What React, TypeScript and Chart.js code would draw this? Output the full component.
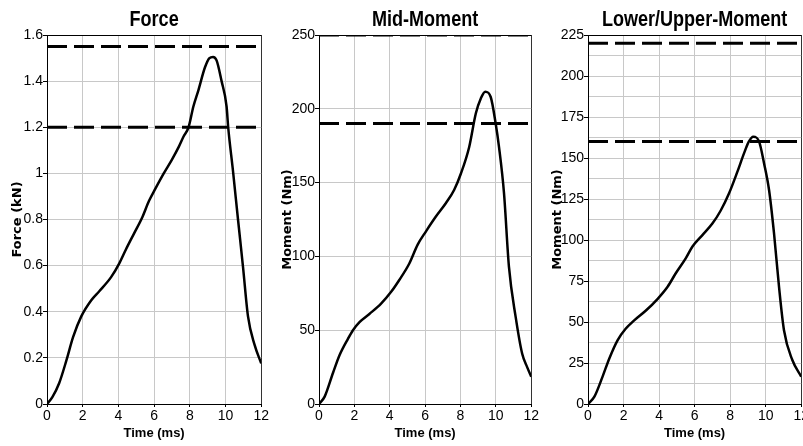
import React, { useEffect, useRef } from "react";
import { Chart, registerables } from "chart.js";

Chart.register(...registerables);

// ---------- data ----------
const forceTime = [0, 0.3, 0.68, 1.09, 1.46, 1.92, 2.48, 2.94, 3.59, 4.05, 4.42, 4.88, 5.34, 5.71, 6.08, 6.54, 7.0, 7.38, 7.65, 7.93, 8.2, 8.48, 8.85, 9.1, 9.3, 9.5, 9.78, 10.06, 10.15, 10.42, 10.7, 10.98, 11.26, 11.63, 12];
const forceValues = [0, 0.03, 0.09, 0.19, 0.29, 0.38, 0.45, 0.49, 0.55, 0.61, 0.67, 0.74, 0.81, 0.88, 0.935, 1.0, 1.06, 1.115, 1.16, 1.2, 1.29, 1.36, 1.46, 1.5, 1.505, 1.49, 1.4, 1.29, 1.2, 1.01, 0.8, 0.595, 0.38, 0.256, 0.176];
const forceLimits = [1.55, 1.2];

const midTime = [0, 0.32, 0.79, 1.16, 1.63, 1.92, 2.29, 2.85, 3.51, 4.08, 4.54, 5.1, 5.58, 6.05, 6.61, 7.17, 7.64, 8.02, 8.49, 8.87, 9.15, 9.4, 9.71, 9.99, 10.18, 10.46, 10.74, 11.12, 11.49, 11.77, 12];
const midValues = [0, 5, 21, 33, 44, 50, 55.5, 61, 68, 76, 84, 95, 108, 117, 127, 136, 145, 156, 174, 197, 207, 211.6, 208, 190, 174, 143, 93, 59, 34, 25, 18.5];
const midLimits = [250, 190];

const luTime = [0, 0.36, 0.82, 1.2, 1.67, 2.13, 2.6, 3.26, 3.91, 4.48, 4.94, 5.5, 5.88, 6.44, 7.0, 7.47, 7.94, 8.41, 8.78, 9.05, 9.3, 9.63, 9.91, 10.19, 10.47, 10.75, 11.03, 11.5, 12];
const luValues = [0, 4.5, 16.7, 27.8, 39, 46, 51, 57, 64, 71.5, 79.7, 88.8, 96, 103, 110, 118, 128.5, 141.7, 152.8, 160, 163, 160, 146.7, 130.5, 104, 71.5, 45, 26.8, 16.7];
const luLimits = [220, 160];

const timeTicks = [0, 2, 4, 6, 8, 10, 12];

// ---------- panel config ----------
type Panel = {
  title: string;
  yTitle: string;
  time: number[];
  values: number[];
  limits: number[];
  yMax: number;
  yStep: number;
  labelEvery: number;
  left: number;
  width: number;
  axisWidth: number;
  padRight: number;
};

const panels: Panel[] = [
  { title: "Force", yTitle: "Force (kN)", time: forceTime, values: forceValues, limits: forceLimits, yMax: 1.6, yStep: 0.2, labelEvery: 0.2, left: 0, width: 270, axisWidth: 47, padRight: 7 },
  { title: "Mid-Moment", yTitle: "Moment (Nm)", time: midTime, values: midValues, limits: midLimits, yMax: 250, yStep: 50, labelEvery: 50, left: 270, width: 270, axisWidth: 49, padRight: 7 },
  { title: "Lower/Upper-Moment", yTitle: "Moment (Nm)", time: luTime, values: luValues, limits: luLimits, yMax: 225, yStep: 12.5, labelEvery: 25, left: 540, width: 270, axisWidth: 48, padRight: 8 },
];

const TICK_FONT = { family: "'Liberation Sans', Arial, sans-serif", size: 14, weight: "normal" as const };

function isMajor(v: number, every: number) {
  const r = v / every;
  return Math.abs(r - Math.round(r)) < 1e-6;
}

// Condensed bold title drawn as canvas text above the chart area
const narrowTitle = {
  id: "narrowTitle",
  afterDraw(chart: any, _args: any, opts: any) {
    if (!opts || !opts.text) return;
    const { ctx, chartArea } = chart;
    const cx = (chartArea.left + chartArea.right) / 2;
    ctx.save();
    ctx.font = "bold 22px 'Liberation Sans', Arial, sans-serif";
    ctx.fillStyle = "#000";
    ctx.textAlign = "center";
    ctx.textBaseline = "alphabetic";
    ctx.translate(cx, 26);
    ctx.scale(0.82, 1);
    ctx.fillText(opts.text, 0, 0);
    ctx.restore();
  },
};

function PanelChart({ p }: { p: Panel }) {
  const ref = useRef<HTMLCanvasElement | null>(null);
  useEffect(() => {
    if (!ref.current) return;
    const curve = p.time.map((t, i) => ({ x: t, y: p.values[i] }));
    const limitSets = p.limits.map((v) => ({
      data: [
        { x: 0, y: v },
        { x: 12, y: v },
      ],
      borderColor: "#000",
      borderWidth: 3,
      borderDash: [20, 7],
      pointRadius: 0,
      tension: 0,
      fill: false,
    }));
    const chart = new Chart(ref.current, {
      type: "line",
      data: {
        datasets: [
          ...limitSets,
          {
            data: curve,
            borderColor: "#000",
            borderWidth: 2.5,
            pointRadius: 0,
            tension: 0.4,
            cubicInterpolationMode: "monotone",
            fill: false,
          },
        ],
      },
      plugins: [narrowTitle],
      options: {
        animation: false,
        responsive: false,
        devicePixelRatio: 1,
        layout: { padding: { left: 0, right: p.padRight, top: 35, bottom: 0 } },
        plugins: {
          legend: { display: false },
          tooltip: { enabled: false },
          title: { display: false },
          narrowTitle: { text: p.title },
        },
        scales: {
          x: {
            type: "linear",
            min: 0,
            max: 12,
            afterBuildTicks: (scale: any) => {
              scale.ticks = timeTicks.map((v) => ({ value: v }));
            },
            afterFit: (scale: any) => {
              scale.height = 42;
            },
            ticks: {
              color: "#000",
              font: TICK_FONT,
              padding: 1,
              maxRotation: 0,
              autoSkip: false,
            },
            grid: {
              color: (ctx: any) => (ctx.tick && ctx.tick.value === 12 ? "#333" : "#c8c8c8"),
              lineWidth: 1,
              tickLength: 3,
              tickColor: "#000",
            },
            border: { color: "#000", width: 1 },
            title: {
              display: true,
              text: "Time (ms)",
              color: "#000",
              font: { family: "'Liberation Sans', Arial, sans-serif", size: 13, weight: "bold", lineHeight: 1 },
              padding: { top: 0, bottom: 6 },
            },
          },
          y: {
            type: "linear",
            min: 0,
            max: p.yMax,
            afterFit: (scale: any) => {
              scale.width = p.axisWidth;
            },
            ticks: {
              stepSize: p.yStep,
              color: "#000",
              font: TICK_FONT,
              padding: 0,
              autoSkip: false,
              callback: (v: any) => (isMajor(Number(v), p.labelEvery) ? String(Math.round(Number(v) * 100) / 100) : ""),
            },
            grid: {
              color: (ctx: any) => (ctx.tick && Math.abs(ctx.tick.value - p.yMax) < 1e-6 ? "#000" : "#c8c8c8"),
              lineWidth: 1,
              tickLength: 4,
              tickColor: (ctx: any) => (ctx.tick && isMajor(ctx.tick.value, p.labelEvery) ? "#000" : "rgba(0,0,0,0)"),
            },
            border: { color: "#000", width: 1 },
            title: {
              display: true,
              text: p.yTitle,
              color: "#000",
              font: { family: "'DejaVu Sans', sans-serif", size: 13, weight: "bold", lineHeight: 1 },
              padding: { top: 11, bottom: 0 },
            },
          },
        },
      } as any,
    });
    return () => chart.destroy();
  }, [p]);
  return (
    <div style={{ position: "absolute", left: p.left, top: 0, width: p.width, height: 446 }}>
      <canvas ref={ref} width={p.width} height={446} style={{ width: p.width, height: 446, display: "block" }} />
    </div>
  );
}

export default function App() {
  useEffect(() => {
    document.body.style.margin = "0";
    document.body.style.background = "#fff";
  }, []);
  return (
    <div style={{ position: "relative", width: 803, height: 446, overflow: "hidden", background: "#fff" }}>
      {panels.map((p) => (
        <PanelChart key={p.title} p={p} />
      ))}
    </div>
  );
}
